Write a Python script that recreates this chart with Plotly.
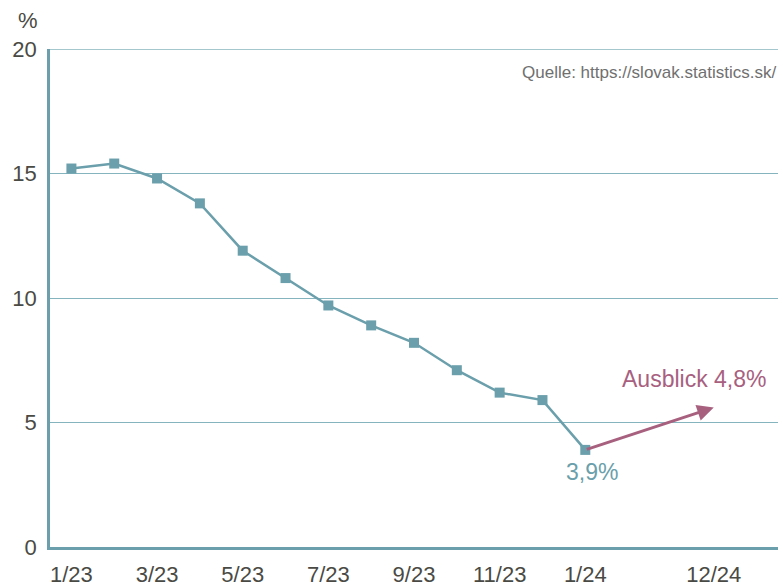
import plotly.graph_objects as go

# Inflation Slowakei, monatlich
months = ['1/23', '2/23', '3/23', '4/23', '5/23', '6/23', '7/23',
          '8/23', '9/23', '10/23', '11/23', '12/23', '1/24']
inflation = [15.2, 15.4, 14.8, 13.8, 11.9, 10.8, 9.7, 8.9, 8.2, 7.1, 6.2, 5.9, 3.9]

tick_labels = ['1/23', '3/23', '5/23', '7/23', '9/23', '11/23', '1/24', '12/24']
tick_pos = [0, 2, 4, 6, 8, 10, 12, 15]
y_ticks = [0, 5, 10, 15, 20]

outlook_pos = 15
outlook_value = 5.6

teal = '#6A9FAB'
grid = '#86B4BE'
mauve = '#A8607F'
grey = '#4a4a44'
narrow = 'Liberation Sans Narrow, Arial Narrow, sans-serif'
sans = 'Liberation Sans, Helvetica, Arial, sans-serif'

x_idx = list(range(len(months)))

fig = go.Figure()
fig.add_trace(go.Scatter(
    x=x_idx, y=inflation, mode='lines+markers',
    line=dict(color=teal, width=2.5),
    marker=dict(symbol='square', size=10, color=teal),
    text=months, hoverinfo='text+y', showlegend=False))

# Ausblick arrow
fig.add_annotation(x=outlook_pos, y=outlook_value, ax=x_idx[-1], ay=inflation[-1],
                   xref='x', yref='y', axref='x', ayref='y',
                   showarrow=True, arrowhead=2, arrowsize=1.1, arrowwidth=3,
                   arrowcolor=mauve, text='')
fig.add_annotation(x=14.55, y=6.75, xref='x', yref='y', text='Ausblick 4,8%',
                   showarrow=False, font=dict(family=sans, size=23, color=mauve))
fig.add_annotation(x=x_idx[-1] + 0.15, y=3.0, xref='x', yref='y', text='3,9%',
                   showarrow=False, font=dict(family=sans, size=23, color=teal))
fig.add_annotation(x=1.0, y=0.952, xref='paper', yref='paper', xanchor='right',
                   yanchor='middle', text='Quelle: https://slovak.statistics.sk/',
                   showarrow=False, font=dict(family=sans, size=17, color='#707070'))
fig.add_annotation(x=-0.03, y=1.058, xref='paper', yref='paper', xanchor='center',
                   yanchor='middle', text='%', showarrow=False,
                   font=dict(family=narrow, size=22, color=grey))

# top gridline at 20
fig.add_shape(type='line', xref='paper', yref='y', x0=0, x1=1, y0=y_ticks[-1],
              y1=y_ticks[-1], line=dict(color=grid, width=1.5), layer='below')

fig.update_xaxes(range=[-0.5, 16.5], tickvals=tick_pos, ticktext=tick_labels,
                 showgrid=False, zeroline=False, showline=True, linecolor=teal,
                 linewidth=2.5, ticks='', automargin=False, ticklabelstandoff=6,
                 tickfont=dict(family=narrow, size=22, color=grey))
fig.update_yaxes(range=[0, 20], tickvals=y_ticks, showgrid=True,
                 gridcolor=grid, gridwidth=1.2, zeroline=False, showline=True,
                 linecolor=teal, linewidth=2.5, ticks='', ticklabelstandoff=6,
                 automargin=False, tickfont=dict(family=narrow, size=22, color=grey))

fig.update_layout(width=783, height=582, margin=dict(l=50, r=5, t=49, b=35),
                  plot_bgcolor='white', paper_bgcolor='white')

fig.write_html("out.html", config={'displayModeBar': False},
               post_script="document.body.style.margin='0';")
